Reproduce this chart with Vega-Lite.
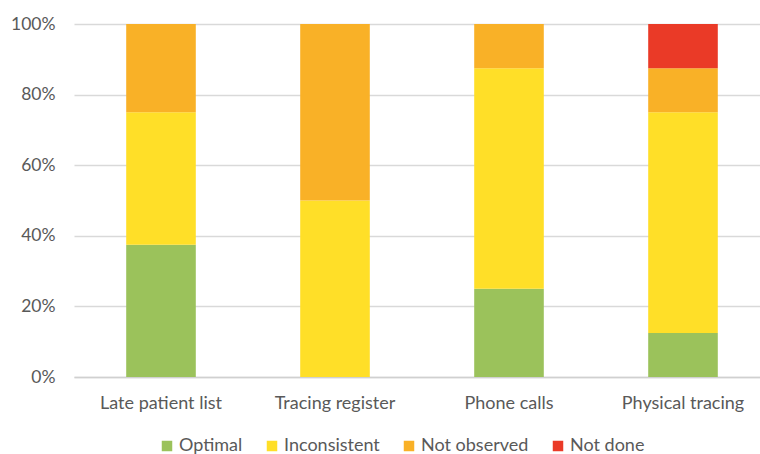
{
  "$schema": "https://vega.github.io/schema/vega-lite/v6.json",
  "autosize": "none",
  "width": 696,
  "height": 353,
  "padding": {"left": 74, "top": 24, "right": 0, "bottom": 77},
  "background": "white",
  "config": {"view": {"stroke": null}, "font": "Lato"},
  "data": {"values": [
    {"cat": "Late patient list", "status": "Optimal", "o": 1, "v": 37.5},
    {"cat": "Late patient list", "status": "Inconsistent", "o": 2, "v": 37.5},
    {"cat": "Late patient list", "status": "Not observed", "o": 3, "v": 25},
    {"cat": "Tracing register", "status": "Inconsistent", "o": 2, "v": 50},
    {"cat": "Tracing register", "status": "Not observed", "o": 3, "v": 50},
    {"cat": "Phone calls", "status": "Optimal", "o": 1, "v": 25},
    {"cat": "Phone calls", "status": "Inconsistent", "o": 2, "v": 62.5},
    {"cat": "Phone calls", "status": "Not observed", "o": 3, "v": 12.5},
    {"cat": "Physical tracing", "status": "Optimal", "o": 1, "v": 12.5},
    {"cat": "Physical tracing", "status": "Inconsistent", "o": 2, "v": 62.5},
    {"cat": "Physical tracing", "status": "Not observed", "o": 3, "v": 12.5},
    {"cat": "Physical tracing", "status": "Not done", "o": 4, "v": 12.5}
  ]},
  "mark": {"type": "bar"},
  "encoding": {
    "x": {
      "field": "cat", "type": "nominal", "sort": null,
      "scale": {"paddingInner": 0.6, "paddingOuter": 0.3},
      "axis": {"title": null, "labelAngle": 0, "labelFontSize": 18, "labelColor": "#595959", "ticks": false, "domainColor": "#D0D0D0", "domainWidth": 1.5, "labelPadding": 17}
    },
    "y": {
      "field": "v", "type": "quantitative", "stack": "normalize",
      "scale": {"domain": [0, 1]},
      "axis": {"title": null, "format": ".0%", "values": [0, 0.2, 0.4, 0.6, 0.8, 1], "labelFontSize": 17.5, "labelColor": "#595959", "ticks": false, "domain": false, "gridColor": "#D9D9D9", "gridWidth": 1.5, "labelPadding": 19}
    },
    "color": {
      "field": "status", "type": "nominal",
      "scale": {"domain": ["Optimal", "Inconsistent", "Not observed", "Not done"], "range": ["#9BC25B", "#FFDF28", "#F9B127", "#EA3A27"]},
      "legend": {"title": null, "orient": "none", "direction": "horizontal", "legendX": 84, "legendY": 413, "symbolType": "square", "symbolSize": 110, "symbolStrokeWidth": 0, "labelFontSize": 18, "labelColor": "#595959", "columnPadding": 20, "labelOffset": 3}
    },
    "order": {"field": "o", "type": "quantitative"}
  }
}
